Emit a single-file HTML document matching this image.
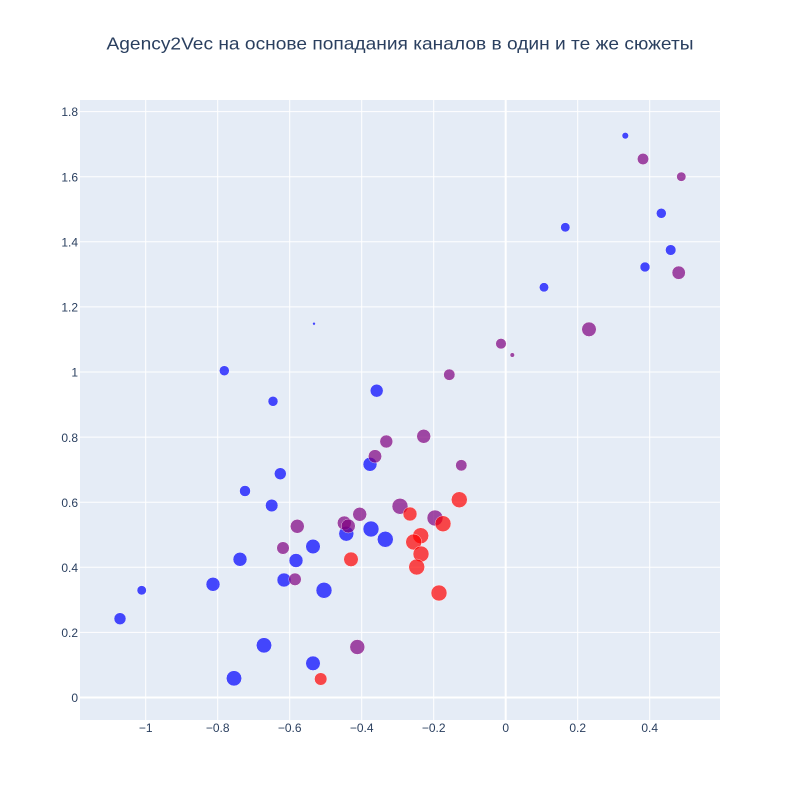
<!DOCTYPE html>
<html><head><meta charset="utf-8"><style>
html,body{margin:0;padding:0;background:#fff;}
svg{display:block;}
text{font-family:"Liberation Sans","DejaVu Sans",sans-serif;fill:#2a3f5f;}
</style></head><body>
<svg width="800" height="800" viewBox="0 0 800 800" xmlns="http://www.w3.org/2000/svg">
<rect x="0" y="0" width="800" height="800" fill="#fff"/>
<rect x="80" y="100" width="640" height="620" fill="#e5ecf6"/>
<g stroke="#fff" stroke-width="1">
<line x1="145.7" y1="100" x2="145.7" y2="720"/>
<line x1="217.7" y1="100" x2="217.7" y2="720"/>
<line x1="289.7" y1="100" x2="289.7" y2="720"/>
<line x1="361.7" y1="100" x2="361.7" y2="720"/>
<line x1="433.7" y1="100" x2="433.7" y2="720"/>
<line x1="577.7" y1="100" x2="577.7" y2="720"/>
<line x1="649.7" y1="100" x2="649.7" y2="720"/>
<line x1="80" y1="632.4" x2="720" y2="632.4"/>
<line x1="80" y1="567.3" x2="720" y2="567.3"/>
<line x1="80" y1="502.2" x2="720" y2="502.2"/>
<line x1="80" y1="437.1" x2="720" y2="437.1"/>
<line x1="80" y1="372.0" x2="720" y2="372.0"/>
<line x1="80" y1="306.9" x2="720" y2="306.9"/>
<line x1="80" y1="241.8" x2="720" y2="241.8"/>
<line x1="80" y1="176.7" x2="720" y2="176.7"/>
<line x1="80" y1="111.6" x2="720" y2="111.6"/>
</g>
<g stroke="#fff" stroke-width="2">
<line x1="505.7" y1="100" x2="505.7" y2="720"/>
<line x1="80" y1="697.5" x2="720" y2="697.5"/>
</g>
<g font-size="12" text-anchor="end">
<text x="78" y="702">0</text>
<text x="78" y="637">0.2</text>
<text x="78" y="572">0.4</text>
<text x="78" y="507">0.6</text>
<text x="78" y="442">0.8</text>
<text x="78" y="376.5">1</text>
<text x="78" y="311.5">1.2</text>
<text x="78" y="246.5">1.4</text>
<text x="78" y="181.5">1.6</text>
<text x="78" y="116">1.8</text>
</g>
<g font-size="12" text-anchor="middle">
<text x="145.7" y="732">−1</text>
<text x="217.7" y="732">−0.8</text>
<text x="289.7" y="732">−0.6</text>
<text x="361.7" y="732">−0.4</text>
<text x="433.7" y="732">−0.2</text>
<text x="505.7" y="732">0</text>
<text x="577.7" y="732">0.2</text>
<text x="649.7" y="732">0.4</text>
</g>
<text x="400" y="49.5" font-size="17.5" text-anchor="middle" textLength="587" lengthAdjust="spacingAndGlyphs">Agency2Vec на основе попадания каналов в один и те же сюжеты</text>
<g stroke="#fff" stroke-width="0.5">
<g fill="#0000ff">
<circle cx="625.3" cy="135.7" r="3.3" opacity="0.7"/>
<circle cx="661.3" cy="213.3" r="5" opacity="0.7"/>
<circle cx="565.3" cy="227.3" r="4.7" opacity="0.7"/>
<circle cx="670.7" cy="250" r="5.3" opacity="0.7"/>
<circle cx="645" cy="267" r="5" opacity="0.7"/>
<circle cx="544" cy="287.3" r="4.7" opacity="0.7"/>
<circle cx="314" cy="323.7" r="1.5" opacity="0.7"/>
<circle cx="224.3" cy="370.7" r="5" opacity="0.7"/>
<circle cx="273" cy="401.3" r="5" opacity="0.7"/>
<circle cx="376.7" cy="390.7" r="6.5" opacity="0.7"/>
<circle cx="370" cy="464.3" r="7" opacity="0.7"/>
<circle cx="280.3" cy="473.7" r="6" opacity="0.7"/>
<circle cx="245" cy="491" r="5.5" opacity="0.7"/>
<circle cx="271.7" cy="505.5" r="6.3" opacity="0.7"/>
<circle cx="346.3" cy="533.7" r="7.5" opacity="0.7"/>
<circle cx="371" cy="529" r="8" opacity="0.7"/>
<circle cx="385.3" cy="539.3" r="8" opacity="0.7"/>
<circle cx="313" cy="546.5" r="7.3" opacity="0.7"/>
<circle cx="240" cy="559.3" r="7" opacity="0.7"/>
<circle cx="296" cy="560.5" r="7" opacity="0.7"/>
<circle cx="213" cy="584.3" r="7" opacity="0.7"/>
<circle cx="284" cy="580" r="7" opacity="0.7"/>
<circle cx="324" cy="590.3" r="8" opacity="0.7"/>
<circle cx="141.7" cy="590.3" r="4.7" opacity="0.7"/>
<circle cx="120" cy="618.7" r="6" opacity="0.7"/>
<circle cx="264" cy="645.3" r="7.7" opacity="0.7"/>
<circle cx="234" cy="678.3" r="7.7" opacity="0.7"/>
<circle cx="313" cy="663.3" r="7.3" opacity="0.7"/>
</g>
<g fill="#800080">
<circle cx="643" cy="159" r="5.7" opacity="0.7"/>
<circle cx="681.3" cy="176.7" r="4.7" opacity="0.7"/>
<circle cx="678.7" cy="272.7" r="6.7" opacity="0.7"/>
<circle cx="589" cy="329.3" r="7.3" opacity="0.7"/>
<circle cx="501" cy="343.7" r="5.3" opacity="0.7"/>
<circle cx="512.3" cy="355" r="2.3" opacity="0.7"/>
<circle cx="449.3" cy="374.7" r="5.7" opacity="0.7"/>
<circle cx="423.7" cy="436.3" r="7" opacity="0.7"/>
<circle cx="386.3" cy="441.5" r="6.5" opacity="0.7"/>
<circle cx="375" cy="456.3" r="6.7" opacity="0.7"/>
<circle cx="461.3" cy="465.3" r="5.7" opacity="0.7"/>
<circle cx="400" cy="506.3" r="8" opacity="0.7"/>
<circle cx="435" cy="518" r="8" opacity="0.7"/>
<circle cx="359.7" cy="514.3" r="7" opacity="0.7"/>
<circle cx="344.3" cy="523" r="7" opacity="0.7"/>
<circle cx="348.3" cy="526" r="7" opacity="0.7"/>
<circle cx="297.3" cy="526.3" r="7" opacity="0.7"/>
<circle cx="283" cy="548" r="6.3" opacity="0.7"/>
<circle cx="295" cy="579.3" r="6.3" opacity="0.7"/>
<circle cx="357.3" cy="647" r="7.5" opacity="0.7"/>
</g>
<g fill="#ff0000">
<circle cx="459.3" cy="499.7" r="8" opacity="0.7"/>
<circle cx="410" cy="514" r="7" opacity="0.7"/>
<circle cx="443" cy="523.7" r="8" opacity="0.7"/>
<circle cx="420.7" cy="535.7" r="8" opacity="0.7"/>
<circle cx="413.7" cy="542" r="8" opacity="0.7"/>
<circle cx="421" cy="554" r="8" opacity="0.7"/>
<circle cx="416.7" cy="567" r="8" opacity="0.7"/>
<circle cx="351" cy="559.3" r="7.3" opacity="0.7"/>
<circle cx="439" cy="593" r="8" opacity="0.7"/>
<circle cx="320.7" cy="679" r="6.3" opacity="0.7"/>
</g>
</g>
</svg>
</body></html>
